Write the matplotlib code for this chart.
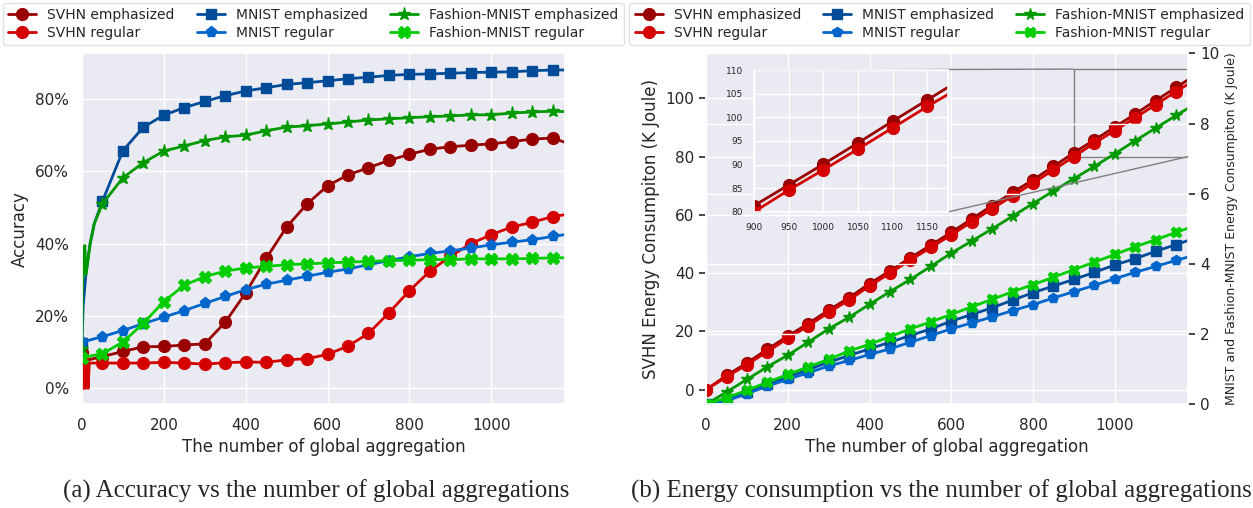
import matplotlib
matplotlib.use('Agg')
import matplotlib.pyplot as plt
import matplotlib.ticker as mtick
import seaborn as sns
from mpl_toolkits.axes_grid1.inset_locator import mark_inset

# rounds where the markers sit, plus the last round
rounds = list(range(0, 1151, 50)) + [1180]

# (a) accuracy in percent, one value per entry of rounds
svhn_emph_acc = [10.0, 8.8, 10.2, 11.5, 11.6, 12.0, 12.3, 18.3, 26.4, 35.9, 44.6, 51.0, 56.0,
                 59.0, 61.0, 63.0, 64.7, 66.1, 66.8, 67.2, 67.6, 68.2, 68.9, 69.2, 68.0]
svhn_reg_acc = [8.0, 7.0, 7.0, 7.0, 7.2, 7.0, 6.7, 7.1, 7.3, 7.2, 7.9, 8.2, 9.4,
                11.7, 15.2, 20.9, 27.0, 32.4, 36.5, 40.0, 42.5, 44.6, 45.9, 47.5, 48.0]
mnist_emph_acc = [12.5, 51.7, 65.7, 72.2, 75.5, 77.6, 79.3, 80.9, 82.2, 83.1, 84.0, 84.5, 85.0,
                  85.6, 86.0, 86.5, 86.8, 86.9, 87.1, 87.3, 87.4, 87.5, 87.8, 88.0, 88.0]
mnist_reg_acc = [12.8, 14.3, 16.0, 17.9, 19.7, 21.5, 23.5, 25.4, 27.3, 28.8, 29.9, 31.0, 32.1,
                 33.0, 34.2, 35.3, 36.4, 37.3, 38.0, 38.8, 39.7, 40.4, 41.1, 42.0, 42.5]
fashion_emph_acc = [11.0, 51.0, 58.2, 62.4, 65.6, 67.0, 68.5, 69.5, 70.0, 71.2, 72.2, 72.6, 73.1,
                    73.6, 74.2, 74.5, 74.8, 75.1, 75.3, 75.6, 75.6, 76.1, 76.4, 76.6, 76.5]
fashion_reg_acc = [8.5, 9.6, 12.8, 18.0, 24.0, 28.5, 30.9, 32.4, 33.3, 33.7, 34.2, 34.4, 34.7,
                   34.9, 35.1, 35.3, 35.4, 35.6, 35.6, 35.8, 35.8, 35.8, 35.9, 36.1, 36.1]

# noisy first rounds (between round 0 and round 50)
svhn_emph_early_x = [5, 10, 20]
svhn_emph_early_y = [9.0, 7.5, 8.0]
svhn_reg_early_x = [1, 3, 5, 8, 12, 15, 18]
svhn_reg_early_y = [0.0, 0.0, 8.0, 0.0, 7.5, 0.0, 7.0]
mnist_emph_early_x = [3, 10, 20, 30]
mnist_emph_early_y = [22.8, 32.0, 40.0, 45.5]
fashion_emph_early_x = [1, 4, 7, 10, 20, 30]
fashion_emph_early_y = [27.0, 35.0, 39.5, 31.5, 40.0, 45.5]

# (b) energy in K Joule, SVHN on the left axis, the others on the right one
svhn_emph_energy = [0.0, 4.9, 9.2, 13.9, 18.4, 22.7, 27.3, 31.6, 36.4, 40.8, 45.3, 49.6, 54.0,
                    58.6, 63.2, 67.7, 72.0, 76.6, 81.3, 85.7, 90.1, 94.6, 99.2, 103.7, 106.4]
svhn_reg_energy = [0.0, 4.4, 8.6, 13.1, 17.6, 21.9, 26.5, 30.8, 35.6, 40.0, 44.5, 48.8, 53.1,
                   57.6, 62.1, 66.5, 70.9, 75.4, 80.0, 84.6, 88.9, 93.3, 97.8, 102.3, 104.9]
mnist_emph_energy = [0.0, 0.14, 0.35, 0.57, 0.78, 0.99, 1.20, 1.39, 1.58, 1.77, 1.96, 2.15, 2.37,
                     2.56, 2.75, 2.97, 3.18, 3.37, 3.56, 3.76, 3.97, 4.15, 4.36, 4.55, 4.67]
mnist_reg_energy = [0.0, 0.10, 0.30, 0.52, 0.71, 0.90, 1.09, 1.25, 1.42, 1.58, 1.77, 1.96, 2.15,
                    2.32, 2.49, 2.67, 2.84, 3.03, 3.21, 3.39, 3.58, 3.76, 3.93, 4.10, 4.20]
fashion_emph_energy = [0.0, 0.35, 0.71, 1.07, 1.40, 1.77, 2.15, 2.48, 2.85, 3.21, 3.56, 3.93, 4.31,
                       4.65, 5.00, 5.36, 5.72, 6.08, 6.43, 6.78, 7.14, 7.51, 7.87, 8.23, 8.44]
fashion_reg_energy = [0.0, 0.19, 0.40, 0.63, 0.85, 1.07, 1.28, 1.52, 1.71, 1.93, 2.15, 2.35, 2.56,
                      2.78, 2.99, 3.21, 3.41, 3.62, 3.84, 4.05, 4.27, 4.49, 4.69, 4.90, 5.02]

labels = ['SVHN emphasized', 'SVHN regular', 'MNIST emphasized', 'MNIST regular',
          'Fashion-MNIST emphasized', 'Fashion-MNIST regular']
colors = ['#990000', '#d40000', '#004c99', '#0066cc', '#009900', '#00cc00']
markers = ['o', 'o', 's', 'p', '*', 'X']
msizes = [8.5, 8.5, 7.5, 8, 9.5, 8.5]

sns.set_theme(style='darkgrid')
plt.rcParams['font.family'] = ['DejaVu Sans']

marked = set(rounds[:-1])


def add_start(early_x, early_y, vals):
    x = [rounds[0]] + early_x + rounds[1:]
    y = [vals[0]] + early_y + vals[1:]
    return x, y


def draw(ax, x, y, i, ms_scale=1.0):
    every = [j for j, v in enumerate(x) if v in marked]
    return ax.plot(x, y, color=colors[i], marker=markers[i], markevery=every,
                   ms=msizes[i] * ms_scale, lw=2, label=labels[i])[0]


fig = plt.figure(figsize=(12.53, 5.08), dpi=100)

# ---- (a) accuracy ----
ax1 = fig.add_axes([0.0654, 0.2041, 0.3855, 0.6909])
acc_series = [
    add_start(svhn_emph_early_x, svhn_emph_early_y, svhn_emph_acc),
    add_start(svhn_reg_early_x, svhn_reg_early_y, svhn_reg_acc),
    add_start(mnist_emph_early_x, mnist_emph_early_y, mnist_emph_acc),
    (rounds, mnist_reg_acc),
    add_start(fashion_emph_early_x, fashion_emph_early_y, fashion_emph_acc),
    (rounds, fashion_reg_acc),
]
h1 = []
for i, (x, y) in enumerate(acc_series):
    h1.append(draw(ax1, x, [v / 100 for v in y], i))
ax1.set_xlim(0, 1180)
ax1.set_ylim(-0.044, 0.926)
ax1.yaxis.set_major_formatter(mtick.PercentFormatter(1.0, decimals=0))
ax1.set_xticks([0, 200, 400, 600, 800, 1000])
ax1.set_xlabel('The number of global aggregation', fontsize=12)
ax1.set_ylabel('Accuracy', fontsize=12)
ax1.tick_params(labelsize=11)
fig.legend(h1, labels, ncol=3, loc='upper center', bbox_to_anchor=(0.25, 1.0),
           fontsize=10, frameon=True, facecolor='white', edgecolor='0.85',
           borderaxespad=0.2, columnspacing=1.6, handlelength=2.0, labelspacing=0.25)

# ---- (b) energy ----
ax2 = fig.add_axes([0.5635, 0.2041, 0.3849, 0.6909])
ax2r = ax2.twinx()
h2 = [draw(ax2, rounds, svhn_emph_energy, 0), draw(ax2, rounds, svhn_reg_energy, 1)]
other = [mnist_emph_energy, mnist_reg_energy, fashion_emph_energy, fashion_reg_energy]
for k, y in enumerate(other):
    h2.append(draw(ax2r, rounds, y, k + 2, ms_scale=0.9))
ax2.set_xlim(0, 1180)
ax2.set_ylim(-5, 115.4)
ax2.set_yticks([0, 20, 40, 60, 80, 100])
ax2r.set_ylim(0, 10)
ax2r.set_yticks([0, 2, 4, 6, 8, 10])
ax2.set_xticks([0, 200, 400, 600, 800, 1000])
ax2.set_xlabel('The number of global aggregation', fontsize=12)
ax2.set_ylabel('SVHN Energy Consumpiton (K Joule)', fontsize=12)
ax2r.set_ylabel('MNIST and Fashion-MNIST Energy Consumpiton (K Joule)', fontsize=9)
ax2.tick_params(labelsize=11)
ax2.tick_params(axis='y', left=True, length=5, width=1.2, color='0.15')
ax2r.tick_params(axis='y', right=True, length=5, width=1.2, color='0.15', labelsize=11)
ax2r.grid(True, color='white')
fig.legend(h2, labels, ncol=3, loc='upper center', bbox_to_anchor=(0.75, 1.0),
           fontsize=10, frameon=True, facecolor='white', edgecolor='0.85',
           borderaxespad=0.2, columnspacing=1.6, handlelength=2.0, labelspacing=0.25)

# zoomed inset for the last rounds of SVHN
axins = fig.add_axes([0.6018, 0.583, 0.155, 0.279])
axins.set_facecolor('#eaeaf2')
draw(axins, rounds, svhn_emph_energy, 0)
draw(axins, rounds, svhn_reg_energy, 1)
axins.set_xlim(900, 1180)
axins.set_ylim(80, 110)
axins.set_xticks([900, 950, 1000, 1050, 1100, 1150])
axins.set_yticks([80, 85, 90, 95, 100, 105, 110])
axins.tick_params(labelsize=6.5, pad=2)
mark_inset(ax2, axins, loc1=2, loc2=4, fc='none', ec='0.5')

fig.text(0.252, 0.02, '(a) Accuracy vs the number of global aggregations',
         ha='center', fontsize=18, family='Liberation Serif')
fig.text(0.7515, 0.02, '(b) Energy consumption vs the number of global aggregations',
         ha='center', fontsize=18, family='Liberation Serif')

fig.savefig('out.png', dpi=100)
